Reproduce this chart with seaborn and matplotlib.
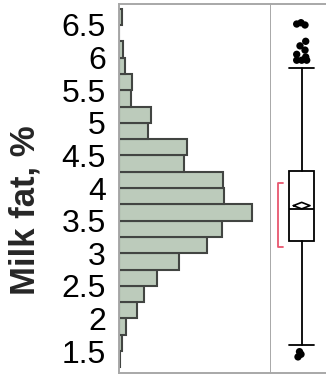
import numpy as np
import pandas as pd
import matplotlib
matplotlib.use("Agg")
import matplotlib.pyplot as plt
import seaborn as sns

# ---- data ----
bin_lower = [1.25, 1.5, 1.75, 2.0, 2.25, 2.5, 2.75, 3.0, 3.25, 3.5, 3.75,
             4.0, 4.25, 4.5, 4.75, 5.0, 5.25, 5.5, 5.75, 6.0, 6.25, 6.5]
bin_counts = [1, 3, 7, 18, 25, 38, 60, 88, 103, 133, 105,
              104, 65, 68, 29, 32, 12, 13, 6, 4, 0, 3]
bin_width = 0.25

q1, median, q3 = 3.19, 3.68, 4.255
whisker_lo, whisker_hi = 1.59, 5.84
mean_val, mean_ci = 3.73, 0.05
shortest_half = (3.09, 4.07)

outliers = [6.515, 6.535, 6.50,
            6.25, 6.18, 6.115, 6.05, 6.01, 5.96, 5.96, 5.96,
            1.49, 1.45, 1.41]
outlier_jitter = [-5.0, -0.7, 3.3,
                  4.0, -1.7, 3.3, -5.0, 4.0, -5.0, 0.0, 5.0,
                  -2.2, -0.7, -3.7]

ytick_vals = [1.5, 2, 2.5, 3, 3.5, 4, 4.5, 5, 5.5, 6, 6.5]
ytick_labels = ["1.5", "2", "2.5", "3", "3.5", "4", "4.5", "5", "5.5", "6", "6.5"]
y_label = "Milk fat, %"

# ---- style ----
sns.set_style("white")
plt.rcParams["font.family"] = ["Liberation Sans", "DejaVu Sans"]

W, H = 326, 377
fig = plt.figure(figsize=(W / 100, H / 100), dpi=100)

spine_col = "#a8a8a8"
ax_bottom = (H - 373) / H
ax_height = (373 - 4) / H
ax = fig.add_axes([119 / W, ax_bottom, 152 / W, ax_height])
axb = fig.add_axes([271 / W, ax_bottom, 55 / W, ax_height])

ylim = (1.163, 6.822)

# histogram (horizontal)
df = pd.DataFrame({"fat": np.array(bin_lower) + bin_width / 2, "n": bin_counts})
edges = list(bin_lower) + [bin_lower[-1] + bin_width]
sns.histplot(data=df, y="fat", weights="n", bins=edges, ax=ax,
             color="#bccbbb", edgecolor="#424542", linewidth=1.5, alpha=1)
ax.set_xlim(0, 152)
ax.set_ylim(*ylim)
ax.set_xticks([])
ax.set_yticks(ytick_vals)
ax.set_yticklabels(ytick_labels)
ax.set_xlabel("")
ax.set_ylabel("")
ax.tick_params(axis="y", direction="out", length=6.5, width=1.1,
               color=spine_col, pad=3, labelsize=23, labelcolor="black")
for s in ax.spines.values():
    s.set_color(spine_col)
    s.set_linewidth(1.4)

# box plot panel
stats = [dict(med=median, q1=q1, q3=q3, whislo=whisker_lo, whishi=whisker_hi,
              fliers=[], mean=mean_val)]
axb.bxp(stats, positions=[0], widths=[25], showfliers=False, patch_artist=True,
        boxprops=dict(facecolor="white", edgecolor="black", linewidth=1.3),
        medianprops=dict(color="black", linewidth=1.3),
        whiskerprops=dict(color="black", linewidth=1.3),
        capprops=dict(color="black", linewidth=1.3),
        capwidths=[25])
axb.scatter(outlier_jitter, outliers, s=28, color="black", zorder=3,
            edgecolors="none")
# mean diamond
dx = 8.3
axb.plot([-dx, 0, dx, 0, -dx],
         [mean_val, mean_val + mean_ci, mean_val, mean_val - mean_ci, mean_val],
         color="black", linewidth=1.2, zorder=4)
# shortest half bracket
xb, xe = -23.4, -18.6
axb.plot([xe, xb, xb, xe],
         [shortest_half[1], shortest_half[1], shortest_half[0], shortest_half[0]],
         color="#e8566e", linewidth=1.3, zorder=4)
axb.set_xlim(-30.7, 24.3)
axb.set_ylim(*ylim)
axb.set_xticks([])
axb.set_yticks([])
for k, s in axb.spines.items():
    s.set_color(spine_col)
    s.set_linewidth(1.4)
axb.spines["left"].set_visible(False)
axb.spines["right"].set_visible(False)

fig.text(25 / W, 1 - 210.5 / H, y_label, rotation=90, ha="center", va="center",
         fontsize=25, fontweight="bold")

fig.savefig("out.png", dpi=100)
